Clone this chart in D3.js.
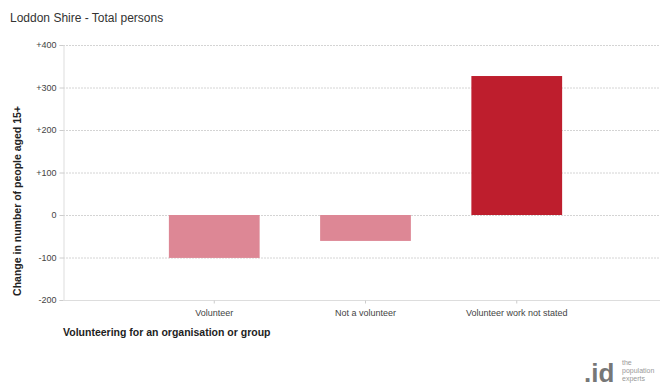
<!DOCTYPE html>
<html><head><meta charset="utf-8">
<script src="https://cdn.jsdelivr.net/npm/d3@7"></script>
<style>body{margin:0;background:#fff;}svg{display:block;font-family:Arial,"Liberation Sans",sans-serif;}</style>
</head><body><svg id="c" width="660" height="388"></svg>
<script>
const categories = ["Volunteer", "Not a volunteer", "Volunteer work not stated"];
const values = [-101, -61, 327];
const yTicks = [-200, -100, 0, 100, 200, 300, 400];
const title = "Loddon Shire - Total persons";
const xTitle = "Volunteering for an organisation or group";
const yTitle = "Change in number of people aged 15+";

(function () {
const svg = d3.select("#c");
const mLeft = 63, mRight = 660, mTop = 45, mBottom = 300;
const y = d3.scaleLinear().domain([-200, 400]).range([mBottom, mTop]);
const x = d3.scaleBand().domain(categories).range([mLeft, 668]).paddingInner(0.4).paddingOuter(0.7);

svg.append("text").attr("x", 10).attr("y", 22).attr("font-size", 12).attr("fill", "#333").text(title);

// gridlines
svg.append("g").selectAll("line").data(yTicks.filter(d => d !== -200)).join("line")
  .attr("x1", mLeft).attr("x2", mRight).attr("y1", d => y(d) + 0.5).attr("y2", d => y(d) + 0.5)
  .attr("stroke", "#d4d4d4").attr("stroke-dasharray", "2,1");

// y axis
const yAxis = d3.axisLeft(y).tickValues(yTicks).tickSize(4).tickPadding(3)
  .tickFormat(d => d > 0 ? "+" + d : String(d));
const ga = svg.append("g").attr("transform", `translate(${mLeft + 0.5},0)`).call(yAxis);
ga.select(".domain").attr("stroke", "#ddd");
ga.selectAll(".tick line").attr("stroke", "#ccc");
ga.selectAll("text").attr("font-size", 9).attr("fill", "#444").attr("font-family", "Arial,Liberation Sans,sans-serif");

// bars
svg.append("g").selectAll("rect").data(categories).join("rect")
  .attr("x", d => x(d)).attr("width", x.bandwidth())
  .attr("y", (d, i) => y(Math.max(0, values[i])))
  .attr("height", (d, i) => Math.abs(y(values[i]) - y(0)))
  .attr("fill", (d, i) => values[i] < 0 ? "#dd8795" : "#be1e2d");

// x axis
const xAxis = d3.axisBottom(x).tickSize(3).tickPadding(6);
const gx = svg.append("g").attr("transform", `translate(0,${mBottom + 0.5})`).call(xAxis);
gx.select(".domain").attr("stroke", "#ddd").attr("d", `M${mLeft},0H${mRight}`);
gx.selectAll(".tick line").attr("stroke", "#ccc");
gx.selectAll("text").attr("font-size", 9).attr("fill", "#444").attr("font-family", "Arial,Liberation Sans,sans-serif");

svg.append("text").attr("x", 63).attr("y", 336).attr("font-size", 10.5).attr("font-weight", "bold").attr("fill", "#222").text(xTitle);
svg.append("text").attr("transform", `translate(21,201) rotate(-90)`)
  .attr("text-anchor", "middle").attr("font-size", 10.5).attr("font-weight", "bold").attr("fill", "#222").text(yTitle);

// logo
const lg = svg.append("g");
lg.append("text").attr("x", 584).attr("y", 382).attr("font-size", 26).attr("font-weight", "bold").attr("fill", "#777").text(".id");
lg.append("text").attr("x", 622).attr("y", 365).attr("font-size", 7).attr("fill", "#999").text("the");
lg.append("text").attr("x", 622).attr("y", 373).attr("font-size", 7).attr("fill", "#999").text("population");
lg.append("text").attr("x", 622).attr("y", 381).attr("font-size", 7).attr("fill", "#999").text("experts");
})();
</script></body></html>
